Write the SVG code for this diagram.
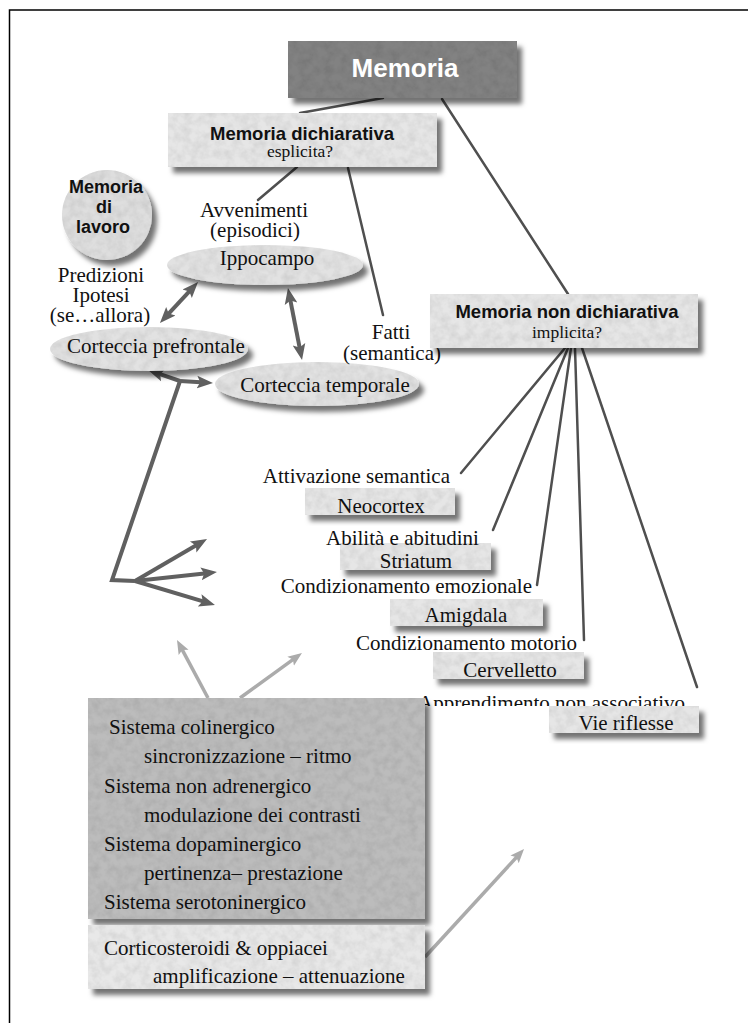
<svg xmlns="http://www.w3.org/2000/svg" width="748" height="1023" viewBox="0 0 748 1023">
<style>
.serif{font-family:"Liberation Serif","Times New Roman",serif;font-size:21px;fill:#111}
.sub{font-family:"Liberation Serif","Times New Roman",serif;font-size:17.5px;fill:#111}
.bold{font-family:"Liberation Sans",Arial,sans-serif;font-weight:bold;fill:#111}
.mid{text-anchor:middle}
.end{text-anchor:end}
.light{fill:#e6e6e6}
.ell{fill:#e2e2e2}
.thin{stroke:#4f4f4f;stroke-width:2.5;fill:none;stroke-linecap:round}
.thick{stroke:#606060;stroke-width:4;fill:none;stroke-linejoin:miter}
.grey{stroke:#ababab;stroke-width:3.5;fill:none}
</style>
<defs>
<filter id="sh" x="-15%" y="-20%" width="140%" height="160%">
<feTurbulence type="fractalNoise" baseFrequency="0.12" numOctaves="3" seed="7" result="noise"/>
<feColorMatrix in="noise" type="matrix" values="0 0 0 0 0  0 0 0 0 0  0 0 0 0 0  0.3 0 0 0 -0.1" result="spots"/>
<feComposite in="spots" in2="SourceGraphic" operator="in" result="spotsIn"/>
<feGaussianBlur in="SourceAlpha" stdDeviation="2.5" result="blur"/>
<feOffset in="blur" dx="5" dy="6" result="off"/>
<feFlood flood-color="#000" flood-opacity="0.55"/>
<feComposite in2="off" operator="in" result="shadow"/>
<feMerge>
<feMergeNode in="shadow"/>
<feMergeNode in="SourceGraphic"/>
<feMergeNode in="spotsIn"/>
</feMerge>
</filter>
<marker id="ad" viewBox="0 0 10 10" refX="5" refY="5" markerWidth="4" markerHeight="4" orient="auto-start-reverse" markerUnits="strokeWidth">
<path d="M0,1 L10,5 L0,9 L2,5 z" fill="#606060"/>
</marker>
<marker id="al" viewBox="0 0 10 10" refX="5" refY="5" markerWidth="4" markerHeight="4" orient="auto" markerUnits="strokeWidth">
<path d="M0,1 L10,5 L0,9 L2,5 z" fill="#ababab"/>
</marker>
<linearGradient id="gg" gradientUnits="userSpaceOnUse" x1="425" y1="957" x2="524" y2="849">
<stop offset="0" stop-color="#8a8a8a"/>
<stop offset="0.35" stop-color="#ababab"/>
</linearGradient>
<clipPath id="clipApp"><rect x="0" y="0" width="748" height="706"/></clipPath>
</defs>

<path d="M9.5,1023 V10 H748" fill="none" stroke="#000" stroke-width="1.5"/>

<g id="connectors">
<line class="thin" x1="383" y1="98" x2="300" y2="113" stroke-width="3"/>
<line class="thin" x1="442" y1="99" x2="568" y2="294"/>
<line class="thin" x1="297" y1="167" x2="258" y2="200"/>
<line class="thin" x1="348" y1="168" x2="383" y2="315"/>
<line class="thin" x1="565" y1="348" x2="461" y2="473"/>
<line class="thin" x1="568" y1="348" x2="493" y2="530"/>
<line class="thin" x1="571" y1="348" x2="537" y2="585"/>
<line class="thin" x1="575" y1="348" x2="584" y2="640"/>
<line class="thin" x1="582" y1="348" x2="697" y2="687"/>
<line class="thick" x1="192.6" y1="287.9" x2="165.4" y2="317.1" marker-start="url(#ad)" marker-end="url(#ad)"/>
<line class="thick" x1="289.5" y1="295.9" x2="300.5" y2="352.1" marker-start="url(#ad)" marker-end="url(#ad)"/>
<line class="thick" x1="180" y1="381" x2="155.6" y2="372.6" marker-end="url(#ad)"/>
<line class="thick" x1="180" y1="381" x2="205" y2="382.5" marker-end="url(#ad)"/>
<path class="thick" d="M180,381 L112,580 L135,581"/>
<line class="thick" x1="135" y1="581" x2="200.1" y2="543" marker-end="url(#ad)"/>
<line class="thick" x1="135" y1="581" x2="209" y2="572.9" marker-end="url(#ad)"/>
<line class="thick" x1="135" y1="581" x2="207.3" y2="602.7" marker-end="url(#ad)"/>
<line class="grey" x1="208" y1="698" x2="180.3" y2="646.2" marker-end="url(#al)"/>
<line class="grey" x1="240" y1="698" x2="296.3" y2="657.1" marker-end="url(#al)"/>
<line class="grey" x1="425" y1="957" x2="519.3" y2="854.2" stroke="url(#gg)" marker-end="url(#al)"/>
</g>

<g id="memoria">
<rect x="288" y="41" width="229" height="57" fill="#828282" filter="url(#sh)"/>
<text class="bold mid" x="405" y="77" font-size="26" style="fill:#fff">Memoria</text>
</g>

<g id="dichiarativa">
<rect class="light" x="168" y="113" width="269" height="54" filter="url(#sh)"/>
<text class="bold mid" x="302" y="140" font-size="18.5">Memoria dichiarativa</text>
<text class="sub mid" x="300" y="157">esplicita?</text>
</g>

<g id="lavoro">
<circle cx="107" cy="215" r="45" fill="#dedede" filter="url(#sh)"/>
<text class="bold mid" x="106" y="193" font-size="18">Memoria</text>
<text class="bold mid" x="104" y="213" font-size="18">di</text>
<text class="bold mid" x="103" y="233" font-size="18">lavoro</text>
</g>

<g id="avvenimenti">
<text class="serif mid" x="254" y="217">Avvenimenti</text>
<text class="serif mid" x="255" y="237">(episodici)</text>
</g>

<g id="ippocampo">
<ellipse class="ell" cx="265" cy="265" rx="98" ry="20" filter="url(#sh)"/>
<text class="serif mid" x="267" y="265">Ippocampo</text>
</g>

<g id="predizioni">
<text class="serif mid" x="101" y="282">Predizioni</text>
<text class="serif mid" x="101" y="302">Ipotesi</text>
<text class="serif mid" x="100" y="322">(se…allora)</text>
</g>

<g id="prefrontale">
<ellipse class="ell" cx="149" cy="349" rx="99" ry="22" filter="url(#sh)"/>
<text class="serif mid" x="156" y="353">Corteccia prefrontale</text>
</g>

<g id="temporale">
<ellipse class="ell" cx="317" cy="384" rx="102" ry="22" filter="url(#sh)"/>
<text class="serif mid" x="325" y="392">Corteccia temporale</text>
</g>

<g id="fatti">
<text class="serif mid" x="391" y="339">Fatti</text>
<text class="serif mid" x="392" y="360">(semantica)</text>
</g>

<g id="nondichiarativa">
<rect class="light" x="430" y="294" width="268" height="54" filter="url(#sh)"/>
<text class="bold mid" x="567" y="318" font-size="18.5">Memoria non dichiarativa</text>
<text class="sub mid" x="567" y="338">implicita?</text>
</g>

<g id="neocortex">
<rect class="light" x="305" y="488" width="150" height="27" filter="url(#sh)"/>
<text class="serif mid" x="381" y="513">Neocortex</text>
</g>
<g id="striatum">
<rect class="light" x="340" y="543" width="151" height="27" filter="url(#sh)"/>
<text class="serif mid" x="416" y="568">Striatum</text>
</g>
<g id="amigdala">
<rect class="light" x="390" y="599" width="153" height="27" filter="url(#sh)"/>
<text class="serif mid" x="466" y="622">Amigdala</text>
</g>
<g id="cervelletto">
<rect class="light" x="433" y="652" width="151" height="27" filter="url(#sh)"/>
<text class="serif mid" x="510" y="677">Cervelletto</text>
</g>
<g id="vieriflesse">
<rect class="light" x="549" y="706" width="150" height="27" filter="url(#sh)"/>
<text class="serif mid" x="626" y="730">Vie riflesse</text>
</g>

<g id="attivazione"><text class="serif end" x="450" y="483">Attivazione semantica</text></g>
<g id="abilita"><text class="serif" x="326" y="545">Abilità e abitudini</text></g>
<g id="condemo"><text class="serif end" x="532" y="593">Condizionamento emozionale</text></g>
<g id="condmot"><text class="serif end" x="577" y="650">Condizionamento motorio</text></g>
<g id="apprendimento" clip-path="url(#clipApp)"><text class="serif" x="418" y="709.5">Apprendimento non associativo</text></g>

<g id="sistemi">
<rect x="88" y="698" width="337" height="221" fill="#bcbcbc" filter="url(#sh)"/>
<text class="serif" x="109" y="734">Sistema colinergico</text>
<text class="serif" x="144" y="763">sincronizzazione – ritmo</text>
<text class="serif" x="104" y="793">Sistema non adrenergico</text>
<text class="serif" x="144" y="822">modulazione dei contrasti</text>
<text class="serif" x="104" y="851">Sistema dopaminergico</text>
<text class="serif" x="144" y="880">pertinenza– prestazione</text>
<text class="serif" x="104" y="909">Sistema serotoninergico</text>
</g>

<g id="corticosteroidi">
<rect x="88" y="925" width="337" height="64" fill="#e8e8e8" filter="url(#sh)"/>
<text class="serif" x="104" y="955">Corticosteroidi &amp; oppiacei</text>
<text class="serif" x="153" y="983">amplificazione – attenuazione</text>
</g>
</svg>
